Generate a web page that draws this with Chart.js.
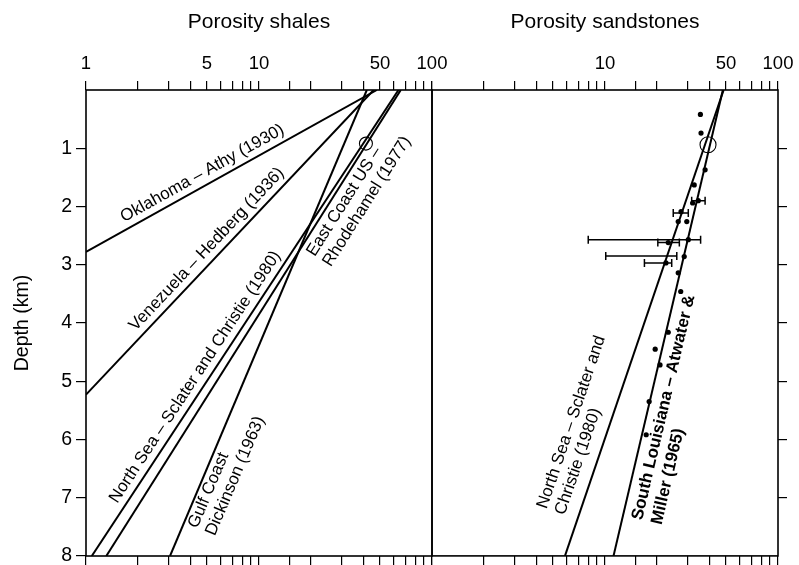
<!DOCTYPE html>
<html>
<head>
<meta charset="utf-8">
<script src="https://cdn.jsdelivr.net/npm/chart.js@4/dist/chart.umd.min.js"></script>
<style>
  html, body { margin: 0; padding: 0; background: #fff; }
  #wrap { position: relative; width: 799px; height: 565px; }
  #wrap canvas { position: absolute; left: 0; top: 0; }
</style>
</head>
<body>
<div id="wrap">
  <canvas id="shales" width="799" height="565"></canvas>
  <canvas id="sands" width="799" height="565"></canvas>
</div>
<script>
// Porosity (%) versus burial depth (km). Each compaction trend is a straight
// line on the log-porosity axis, given by its surface porosity and end point.
const shaleNames = [
  ['Oklahoma – Athy (1930)'],
  ['Venezuela – Hedberg (1936)'],
  ['North Sea – Sclater and Christie (1980)'],
  ['East Coast US –', 'Rhodehamel (1977)'],
  ['Gulf Coast', 'Dickinson (1963)']
];
const shaleSurfacePorosity = [48, 46, 64, 66, 42];
const shaleEndPorosity     = [1, 1, 1.08, 1.31, 3.06];
const shaleEndDepth        = [2.78, 5.23, 8, 8, 8];

const sandNames = [
  ['North Sea – Sclater and', 'Christie (1980)'],
  ['South Louisiana – Atwater &', 'Miller (1965)']
];
const sandSurfacePorosity = [48.5, 48];
const sandEndPorosity     = [5.87, 11.2];
const sandEndDepth        = [8, 8];

// Sandstone measurements
const sandSamplePorosity = [35.6, 35.9, 37.9, 32.8, 34.6, 32.1, 27.5, 26.5, 29.7, 30.3,
                            23.2, 28.7, 22.5, 26.5, 27.4, 23.2, 19.5, 20.8, 18.0, 17.3];
const sandSampleDepth    = [0.42, 0.74, 1.37, 1.63, 1.90, 1.94, 2.09, 2.26, 2.26, 2.57,
                            2.62, 2.86, 2.97, 3.14, 3.46, 4.16, 4.45, 4.72, 5.35, 5.92];

// Porosity ranges shown as horizontal bars
const rangeDepth = [1.90, 2.11, 2.57, 2.62, 2.85, 2.97];
const rangeLow   = [31.7, 24.8, 8.0, 20.2, 10.1, 16.9];
const rangeHigh  = [37.9, 30.3, 35.7, 26.9, 26.0, 24.3];

// Open-circle reference values at about 1 km
const shaleRefPorosity = [41.5];
const shaleRefDepth    = [0.92];
const sandRefPorosity  = [39.4];
const sandRefDepth     = [0.94];

// Axis labelling
const shaleTickLabels = [1, 5, 10, 50, 100];
const sandTickLabels  = [10, 50, 100];
const depthMin = 0, depthMax = 8;

// Placement of the in-plot captions along their lines
// t: fraction along the line from its deep end, off: px offset perpendicular (+ = above)
const shaleCaptionPlacement = [
  { t: 0.42, off: 12, align: 'center', gap: 19, bold: false },
  { t: 0.45, off: 12, align: 'center', gap: 19, bold: false },
  { t: 0.37, off: 12, align: 'center', gap: 19, bold: false },
  { t: 0.66, off: -12, align: 'left', gap: 19, bold: false },
  { t: 0.07, off: -10, align: 'left', gap: 19, bold: false }
];
const sandCaptionPlacement = [
  { t: 0.077, off: 37, align: 'left', gap: 19, bold: false },
  { t: 0.085, off: -15, align: 'left', gap: 20, bold: true }
];

const FONT = '"Liberation Sans", Arial, Helvetica, sans-serif';
const INK = '#000';

function trendDatasets(surface, endPor, endDepth) {
  return surface.map((p0, i) => ({
    data: [{ x: p0, y: 0 }, { x: endPor[i], y: endDepth[i] }],
    showLine: true,
    borderColor: INK,
    borderWidth: 2,
    pointRadius: 0,
    isTrend: true,
    trendIndex: i
  }));
}

function pointsOf(xs, ys) {
  return xs.map((v, i) => ({ x: v, y: ys[i] }));
}

const framePlugin = {
  id: 'frame',
  afterDatasetsDraw(chart) {
    const { ctx, chartArea: a } = chart;
    ctx.save();
    ctx.strokeStyle = INK;
    ctx.lineWidth = 1.6;
    ctx.strokeRect(a.left, a.top, a.right - a.left, a.bottom - a.top);
    ctx.restore();
  }
};

function captionPlugin(names, placement) {
  return {
    id: 'captions',
    afterDatasetsDraw(chart) {
      const { ctx } = chart;
      const xs = chart.scales.x, ys = chart.scales.y;
      chart.data.datasets.forEach(ds => {
        if (!ds.isTrend) return;
        const i = ds.trendIndex;
        const pl = placement[i];
        const top = { x: xs.getPixelForValue(ds.data[0].x), y: ys.getPixelForValue(ds.data[0].y) };
        const deep = { x: xs.getPixelForValue(ds.data[1].x), y: ys.getPixelForValue(ds.data[1].y) };
        const dx = top.x - deep.x, dy = top.y - deep.y;
        const len = Math.hypot(dx, dy);
        const ux = dx / len, uy = dy / len;
        const upx = uy, upy = -ux;
        const px = deep.x + pl.t * len * ux + pl.off * upx;
        const py = deep.y + pl.t * len * uy + pl.off * upy;
        ctx.save();
        ctx.translate(px, py);
        ctx.rotate(Math.atan2(uy, ux));
        ctx.fillStyle = INK;
        ctx.font = (pl.bold ? 'bold ' : '') + '17px ' + FONT;
        ctx.textAlign = pl.align;
        ctx.textBaseline = 'middle';
        names[i].forEach((line, k) => ctx.fillText(line, 0, k * pl.gap));
        ctx.restore();
      });
    }
  };
}

const rangePlugin = {
  id: 'ranges',
  afterDatasetsDraw(chart) {
    const { ctx } = chart;
    const xs = chart.scales.x, ys = chart.scales.y;
    ctx.save();
    ctx.strokeStyle = INK;
    ctx.lineWidth = 1.5;
    rangeDepth.forEach((d, i) => {
      const y = ys.getPixelForValue(d);
      const x1 = xs.getPixelForValue(rangeLow[i]);
      const x2 = xs.getPixelForValue(rangeHigh[i]);
      ctx.beginPath();
      ctx.moveTo(x1, y); ctx.lineTo(x2, y);
      ctx.moveTo(x1, y - 4); ctx.lineTo(x1, y + 4);
      ctx.moveTo(x2, y - 4); ctx.lineTo(x2, y + 4);
      ctx.stroke();
    });
    ctx.restore();
  }
};

function near(v, list) { return list.some(t => Math.abs(t - v) < 1e-6); }

function topAxis(title, labels) {
  return {
    type: 'logarithmic', position: 'top', min: 1, max: 100,
    title: { display: true, text: title, color: INK, font: { family: FONT, size: 21 }, padding: { top: 10, bottom: 0 } },
    ticks: {
      autoSkip: false, maxRotation: 0, minRotation: 0, color: INK, padding: 6,
      font: { family: FONT, size: 18.5 },
      callback: v => near(v, labels) ? String(v) : ''
    },
    grid: { drawOnChartArea: false, drawTicks: true, tickLength: 9, color: INK, lineWidth: 1.2 },
    border: { display: false },
    afterFit: s => { s.height = 90; s.paddingLeft = 0; s.paddingRight = 0; }
  };
}

function bottomAxis() {
  return {
    type: 'logarithmic', position: 'bottom', min: 1, max: 100,
    ticks: { autoSkip: false, maxRotation: 0, minRotation: 0, callback: () => '' },
    grid: { drawOnChartArea: false, drawTicks: true, tickLength: 9, color: INK, lineWidth: 1.2 },
    border: { display: false },
    afterFit: s => { s.height = 9; s.paddingLeft = 0; s.paddingRight = 0; }
  };
}

Chart.defaults.font.family = FONT;
Chart.defaults.color = INK;

// Shales
new Chart(document.getElementById('shales'), {
  type: 'scatter',
  data: {
    datasets: [
      ...trendDatasets(shaleSurfacePorosity, shaleEndPorosity, shaleEndDepth),
      {
        data: pointsOf(shaleRefPorosity, shaleRefDepth),
        pointRadius: 6.5, pointBorderWidth: 1.1,
        pointBorderColor: INK, pointBackgroundColor: 'rgba(0,0,0,0)'
      }
    ]
  },
  options: {
    responsive: false, animation: false,
    layout: { padding: { left: 0, top: 0, right: 799 - 432, bottom: 0 } },
    plugins: { legend: { display: false }, tooltip: { enabled: false } },
    scales: {
      x: topAxis('Porosity shales', shaleTickLabels),
      xb: bottomAxis(),
      y: {
        type: 'linear', position: 'left', reverse: true, min: depthMin, max: depthMax,
        title: { display: true, text: 'Depth (km)', color: INK, font: { family: FONT, size: 19.5 }, padding: { top: 11, bottom: 0 } },
        ticks: { stepSize: 1, color: INK, padding: 4, font: { family: FONT, size: 19.5 },
                 callback: v => v === 0 ? '' : String(v) },
        grid: { drawOnChartArea: false, drawTicks: true, tickLength: 10, lineWidth: 1.2,
                color: c => (c.tick && c.tick.value === 0) ? 'rgba(0,0,0,0)' : INK },
        border: { display: false },
        afterFit: s => { s.width = 86; s.paddingTop = 0; s.paddingBottom = 0; }
      }
    }
  },
  plugins: [framePlugin, captionPlugin(shaleNames, shaleCaptionPlacement)]
});

// Sandstones
new Chart(document.getElementById('sands'), {
  type: 'scatter',
  data: {
    datasets: [
      ...trendDatasets(sandSurfacePorosity, sandEndPorosity, sandEndDepth),
      {
        data: pointsOf(sandSamplePorosity, sandSampleDepth),
        pointRadius: 2.6, pointBorderWidth: 0,
        pointBackgroundColor: INK
      },
      {
        data: pointsOf(sandRefPorosity, sandRefDepth),
        pointRadius: 8, pointBorderWidth: 1.1,
        pointBorderColor: INK, pointBackgroundColor: 'rgba(0,0,0,0)'
      }
    ]
  },
  options: {
    responsive: false, animation: false,
    layout: { padding: { left: 432, top: 0, right: 0, bottom: 0 } },
    plugins: { legend: { display: false }, tooltip: { enabled: false } },
    scales: {
      x: topAxis('Porosity sandstones', sandTickLabels),
      xb: bottomAxis(),
      y: {
        type: 'linear', position: 'right', reverse: true, min: depthMin, max: depthMax,
        ticks: { stepSize: 1, callback: () => '' },
        grid: { drawOnChartArea: false, drawTicks: true, tickLength: 9, lineWidth: 1.2,
                color: c => (c.tick && (c.tick.value === depthMin || c.tick.value === depthMax)) ? 'rgba(0,0,0,0)' : INK },
        border: { display: false },
        afterFit: s => { s.width = 21; s.paddingTop = 0; s.paddingBottom = 0; }
      }
    }
  },
  plugins: [framePlugin, rangePlugin, captionPlugin(sandNames, sandCaptionPlacement)]
});
</script>
</body>
</html>
